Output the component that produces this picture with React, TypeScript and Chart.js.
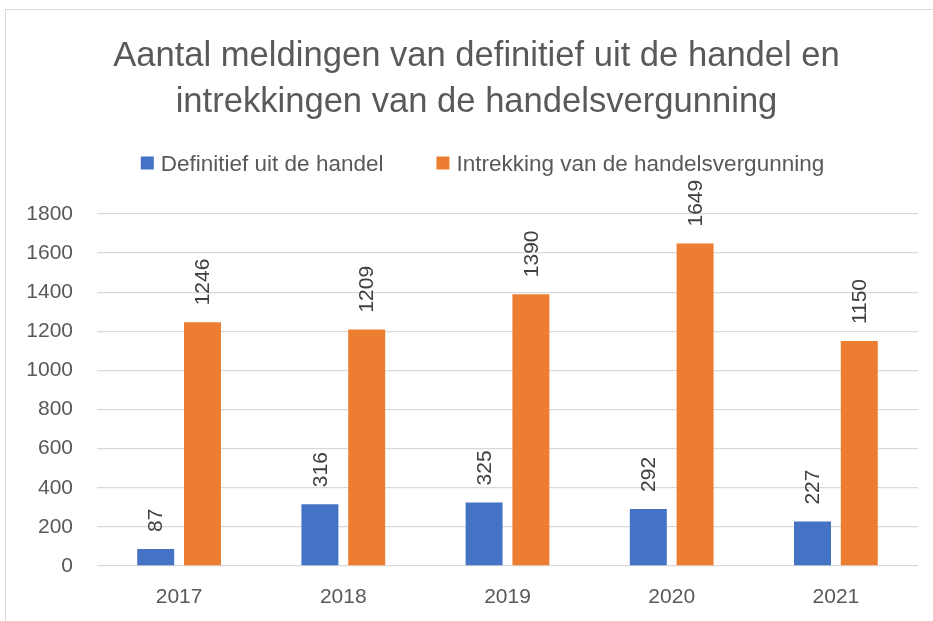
import React, { useEffect, useRef } from "react";
import { Chart, registerables } from "chart.js";

Chart.register(...registerables);

const categories = ["2017", "2018", "2019", "2020", "2021"];
const definitiefValues = [87, 316, 325, 292, 227];
const intrekkingValues = [1246, 1209, 1390, 1649, 1150];
const seriesNames = ["Definitief uit de handel", "Intrekking van de handelsvergunning"];
const seriesColors = ["#4472C4", "#ED7D31"];
const titleLines = ["Aantal meldingen van definitief uit de handel en", "intrekkingen van de handelsvergunning"];

const FONT = "'Liberation Sans', Arial, sans-serif";
const TEXT = "#595959";

const barLabels = {
  id: "barLabels",
  afterDatasetsDraw(chart: any) {
    const ctx = chart.ctx;
    ctx.save();
    ctx.font = `21px ${FONT}`;
    ctx.fillStyle = "#404040";
    chart.data.datasets.forEach((ds: any, di: number) => {
      const meta = chart.getDatasetMeta(di);
      meta.data.forEach((el: any, i: number) => {
        ctx.save();
        ctx.translate(el.x, el.y - 17);
        ctx.rotate(-Math.PI / 2);
        ctx.textAlign = "left";
        ctx.textBaseline = "middle";
        ctx.fillText(String(ds.data[i]), 0, 1);
        ctx.restore();
      });
    });
    ctx.restore();
  },
};

const titleAndLegend = {
  id: "titleAndLegend",
  afterDraw(chart: any) {
    const ctx = chart.ctx;
    ctx.save();
    // title
    ctx.font = `34.6px ${FONT}`;
    ctx.fillStyle = TEXT;
    ctx.textAlign = "center";
    ctx.textBaseline = "alphabetic";
    const titleCenter = chart.width / 2 + 10;
    titleLines.forEach((line, i) => {
      ctx.fillText(line, titleCenter, 66 + i * 46);
    });
    // legend
    ctx.font = `22.5px ${FONT}`;
    const box = 13;
    const boxGap = 7;
    const itemGap = 53;
    const items = chart.data.datasets.map((ds: any) => ({
      text: ds.label,
      color: ds.backgroundColor,
      w: ctx.measureText(ds.label).width,
    }));
    const total = items.reduce((a: number, it: any) => a + box + boxGap + it.w, 0) + itemGap * (items.length - 1);
    const centerX = chart.width / 2 + 16;
    const capCenter = chart.chartArea.top - 51;
    let x = centerX - total / 2;
    items.forEach((it: any) => {
      ctx.fillStyle = it.color;
      ctx.fillRect(x, capCenter - box / 2, box, box);
      x += box + boxGap;
      ctx.fillStyle = TEXT;
      ctx.textAlign = "left";
      ctx.textBaseline = "alphabetic";
      ctx.fillText(it.text, x, capCenter + 8);
      x += it.w + itemGap;
    });
    ctx.restore();
  },
};

export default function App() {
  const ref = useRef<HTMLCanvasElement>(null);
  useEffect(() => {
    if (!ref.current) return;
    const chart = new Chart(ref.current, {
      type: "bar",
      data: {
        labels: categories,
        datasets: [
          { label: seriesNames[0], data: definitiefValues, backgroundColor: seriesColors[0], categoryPercentage: 0.57, barPercentage: 0.79 },
          { label: seriesNames[1], data: intrekkingValues, backgroundColor: seriesColors[1], categoryPercentage: 0.57, barPercentage: 0.79 },
        ],
      },
      options: {
        responsive: false,
        animation: false,
        layout: { padding: { left: 10, right: 15, top: 214, bottom: 0 } },
        plugins: {
          title: { display: false },
          legend: { display: false },
          tooltip: { enabled: false },
        },
        scales: {
          x: {
            grid: { display: false, drawTicks: false },
            border: { display: false },
            ticks: { color: TEXT, font: { family: FONT, size: 21 }, padding: 19 },
            afterFit: (s: any) => { s.height = 55; },
          },
          y: {
            min: 0,
            max: 1800,
            ticks: {
              stepSize: 200,
              color: TEXT,
              font: { family: FONT, size: 21 },
              padding: 24,
              callback: (v: any) => String(v),
            },
            grid: { color: "#d9d9d9", lineWidth: 1.3, drawTicks: false },
            border: { display: false },
            afterFit: (s: any) => { s.width = 87; },
          },
        },
      },
      plugins: [barLabels, titleAndLegend],
    });
    return () => chart.destroy();
  }, []);
  return (
    <div style={{ position: "fixed", left: 0, top: 0, width: 933, height: 621, background: "#fff", overflow: "hidden" }}>
      <div style={{ position: "absolute", left: 5, top: 9, width: 960, height: 660, border: "1px solid #d9d9d9" }} />
      <canvas ref={ref} width={933} height={621} style={{ position: "absolute", left: 0, top: 0 }} />
    </div>
  );
}
